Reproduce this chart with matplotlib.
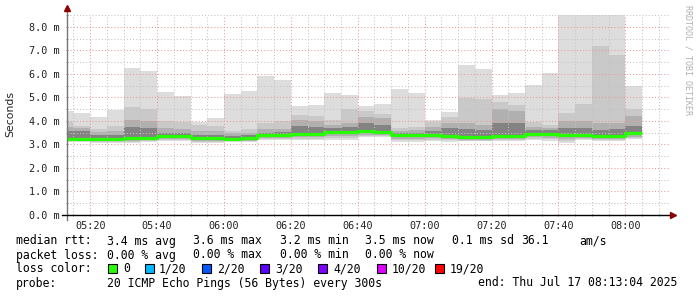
import numpy as np
import pandas as pd
import matplotlib
matplotlib.use("Agg")
import matplotlib.pyplot as plt
from matplotlib.patches import Rectangle
from matplotlib.ticker import MultipleLocator, FuncFormatter

W, H = 697, 297
MONO = "DejaVu Sans Mono"

# 5 minute steps (start of each step), 05:10 .. 08:00
steps = pd.date_range("2025-07-17 05:10", "2025-07-17 08:00", freq="5min")

# smoke layers, values in ms
rtt_max = [4.40, 4.33, 4.18, 4.47, 6.26, 6.13, 5.24, 5.06, 3.97, 4.12, 5.14, 5.28,
           5.92, 5.74, 4.62, 4.67, 5.20, 5.10, 4.64, 4.72, 5.36, 5.19, 4.03, 4.38,
           6.38, 6.21, 5.11, 5.20, 5.53, 6.03, 9.4, 10.2, 9.8, 9.1, 5.49]
hi2 = [3.97, 3.79, 3.66, 3.80, 4.61, 4.50, 4.00, 3.97, 3.83, 3.79, 3.57, 3.65,
       3.90, 4.00, 4.26, 4.21, 4.04, 4.50, 4.40, 4.30, 3.69, 3.76, 3.94, 4.17,
       4.99, 4.92, 4.82, 4.68, 3.97, 3.83, 4.35, 4.72, 7.19, 6.81, 4.51]
hi3 = [3.76, 3.69, 3.52, 3.57, 4.04, 4.01, 3.69, 3.66, 3.55, 3.55, 3.48, 3.50,
       3.65, 3.67, 4.04, 4.01, 3.83, 3.90, 4.18, 4.11, 3.59, 3.62, 3.76, 3.90,
       3.90, 3.83, 4.50, 4.40, 3.76, 3.69, 4.00, 4.00, 3.90, 3.92, 4.21]
hi4 = [3.59, 3.55, 3.40, 3.42, 3.76, 3.69, 3.50, 3.48, 3.42, 3.42, 3.35, 3.38,
       3.50, 3.52, 3.79, 3.76, 3.69, 3.76, 3.90, 3.83, 3.50, 3.50, 3.59, 3.69,
       3.66, 3.62, 3.90, 3.90, 3.62, 3.60, 3.69, 3.69, 3.62, 3.65, 3.79]
median = [3.22, 3.22, 3.24, 3.24, 3.27, 3.29, 3.34, 3.34, 3.26, 3.26, 3.24, 3.26,
          3.41, 3.41, 3.45, 3.45, 3.52, 3.51, 3.57, 3.54, 3.41, 3.41, 3.41, 3.37,
          3.33, 3.33, 3.34, 3.35, 3.45, 3.45, 3.42, 3.42, 3.35, 3.37, 3.47]
lo4 = [3.17, 3.17, 3.19, 3.19, 3.21, 3.23, 3.28, 3.28, 3.20, 3.20, 3.19, 3.20,
       3.35, 3.35, 3.39, 3.39, 3.45, 3.45, 3.50, 3.48, 3.34, 3.34, 3.35, 3.31,
       3.27, 3.27, 3.28, 3.29, 3.38, 3.38, 3.34, 3.35, 3.28, 3.30, 3.40]
lo3 = [3.15, 3.14, 3.15, 3.15, 3.16, 3.18, 3.22, 3.22, 3.15, 3.15, 3.16, 3.16,
       3.28, 3.28, 3.30, 3.30, 3.36, 3.36, 3.42, 3.42, 3.24, 3.24, 3.27, 3.23,
       3.20, 3.20, 3.22, 3.22, 3.30, 3.28, 3.24, 3.26, 3.22, 3.24, 3.32]
lo2 = [3.13, 3.13, 3.12, 3.12, 3.10, 3.15, 3.17, 3.17, 3.11, 3.11, 3.14, 3.14,
       3.23, 3.23, 3.24, 3.24, 3.27, 3.27, 3.36, 3.36, 3.17, 3.17, 3.20, 3.17,
       3.16, 3.16, 3.18, 3.18, 3.24, 3.22, 3.15, 3.22, 3.19, 3.20, 3.27]
rtt_min = [3.11, 3.11, 3.08, 3.08, 3.05, 3.12, 3.13, 3.13, 3.08, 3.08, 3.12, 3.12,
           3.19, 3.19, 3.19, 3.19, 3.19, 3.19, 3.30, 3.30, 3.12, 3.12, 3.15, 3.12,
           3.13, 3.13, 3.15, 3.15, 3.19, 3.16, 3.08, 3.19, 3.16, 3.16, 3.22]

loss_labels = ["0", "1/20", "2/20", "3/20", "4/20", "10/20", "19/20"]
loss_colors = ["#26ff00", "#00b8ff", "#0059ff", "#5e00ff", "#7e00ff", "#dd00ff", "#ff0000"]

# window: 3 hours ending at 08:13:04
t_end = 8 * 60 + 13 + 4 / 60
t_start = t_end - 180

x = np.array(steps.hour * 60 + steps.minute, dtype=float)


def px(xp, yp):
    return xp / W, 1 - yp / H


fig = plt.figure(figsize=(W / 100, H / 100), dpi=100)
fig.patch.set_facecolor("white")
ax = fig.add_axes([67 / W, (H - 215) / H, 602 / W, 200 / H])

layers = [(rtt_min, rtt_max, "#dddddd"),
          (lo2, hi2, "#c9c9c9"),
          (lo3, hi3, "#b0b0b0"),
          (lo4, hi4, "#838383")]
for lo, hi, col in layers:
    lo = np.array(lo)
    hi = np.array(hi)
    ax.bar(x, hi - lo, bottom=lo, width=5, align="edge", color=col,
           linewidth=0, zorder=1)

ax.step(np.append(x, x[-1] + 5), np.append(median, median[-1]), where="post",
        color=loss_colors[0], lw=2.3, zorder=3, solid_capstyle="butt")

ax.set_xlim(t_start, t_end)
ax.set_ylim(0, 8.5)

ax.xaxis.set_major_locator(MultipleLocator(20))
ax.xaxis.set_minor_locator(MultipleLocator(5))
ax.yaxis.set_major_locator(MultipleLocator(1.0))
ax.yaxis.set_minor_locator(MultipleLocator(0.5))
ax.xaxis.set_major_formatter(FuncFormatter(lambda v, p: f"{int(v) // 60:02d}:{int(v) % 60:02d}"))
ax.yaxis.set_major_formatter(FuncFormatter(lambda v, p: f"{v:.1f} m"))

ax.set_axisbelow(False)
ax.grid(which="minor", color="#c4c4c4", linestyle=(0, (1, 2)), linewidth=0.75)
ax.grid(which="major", color="#e89a9a", linestyle=(0, (1, 2)), linewidth=0.75)

ax.tick_params(which="both", length=2, direction="inout", color="#888888", width=0.7)
ax.tick_params(axis="x", which="major", labelsize=7.3, pad=3)
ax.tick_params(axis="y", which="major", labelsize=7.3, pad=4.5)
for lab in ax.get_xticklabels() + ax.get_yticklabels():
    lab.set_fontfamily(MONO)
    lab.set_color("#222222")

for s in ax.spines.values():
    s.set_visible(False)

# axes with arrows like rrdtool
ax.plot([0, 0], [-0.025, 1.03], transform=ax.transAxes, color="#777777",
        lw=1, clip_on=False, zorder=4)
ax.plot([-0.008, 1.005], [0, 0], transform=ax.transAxes, color="black",
        lw=1, clip_on=False, zorder=4)
ax.plot([0], [1.035], transform=ax.transAxes, marker="^", ms=4.5,
        color="#8b0000", clip_on=False, zorder=5)
ax.plot([1.006], [0], transform=ax.transAxes, marker=">", ms=4.5,
        color="#8b0000", clip_on=False, zorder=5)

fig.text(*px(10.5, 114), "Seconds", rotation=90, ha="center", va="center",
         fontsize=7.8, color="#222222")
fig.text(*px(688, 60), "RRDTOOL / TOBI OETIKER", rotation=270, ha="center",
         va="center", fontsize=6, family=MONO, color="#b0b0b0")

# legend
FS = 8.3
rows = [
    (244.5, [(16, "median rtt:"), (107, "3.4 ms avg"), (193, "3.6 ms max"),
             (280, "3.2 ms min"), (365, "3.5 ms now"), (452, "0.1 ms sd"),
             (521, "36.1"), (579, "am/s")]),
    (258.5, [(16, "packet loss:"), (107, "0.00 % avg"), (193, "0.00 % max"),
             (280, "0.00 % min"), (365, "0.00 % now")]),
    (272.5, [(16, "loss color:")]),
    (286.5, [(16, "probe:"), (107, "20 ICMP Echo Pings (56 Bytes) every 300s"),
             (478, "end: Thu Jul 17 08:13:04 2025")]),
]
for yb, items in rows:
    for xp, txt in items:
        fig.text(*px(xp, yb), txt, ha="left", va="baseline", fontsize=FS,
                 family=MONO, color="black")

sq_x = [108, 145, 202, 260, 318, 377, 435]
lab_x = [123, 159, 217, 275, 333, 392, 450]
for sx, lx, lab, col in zip(sq_x, lab_x, loss_labels, loss_colors):
    fig.patches.append(Rectangle(px(sx, 272.5), 9 / W, 9 / H, transform=fig.transFigure,
                                 facecolor=col, edgecolor="black", linewidth=0.8))
    fig.text(*px(lx, 272.5), lab, ha="left", va="baseline", fontsize=FS,
             family=MONO, color="black")

fig.savefig("out.png", dpi=100, facecolor="white")
